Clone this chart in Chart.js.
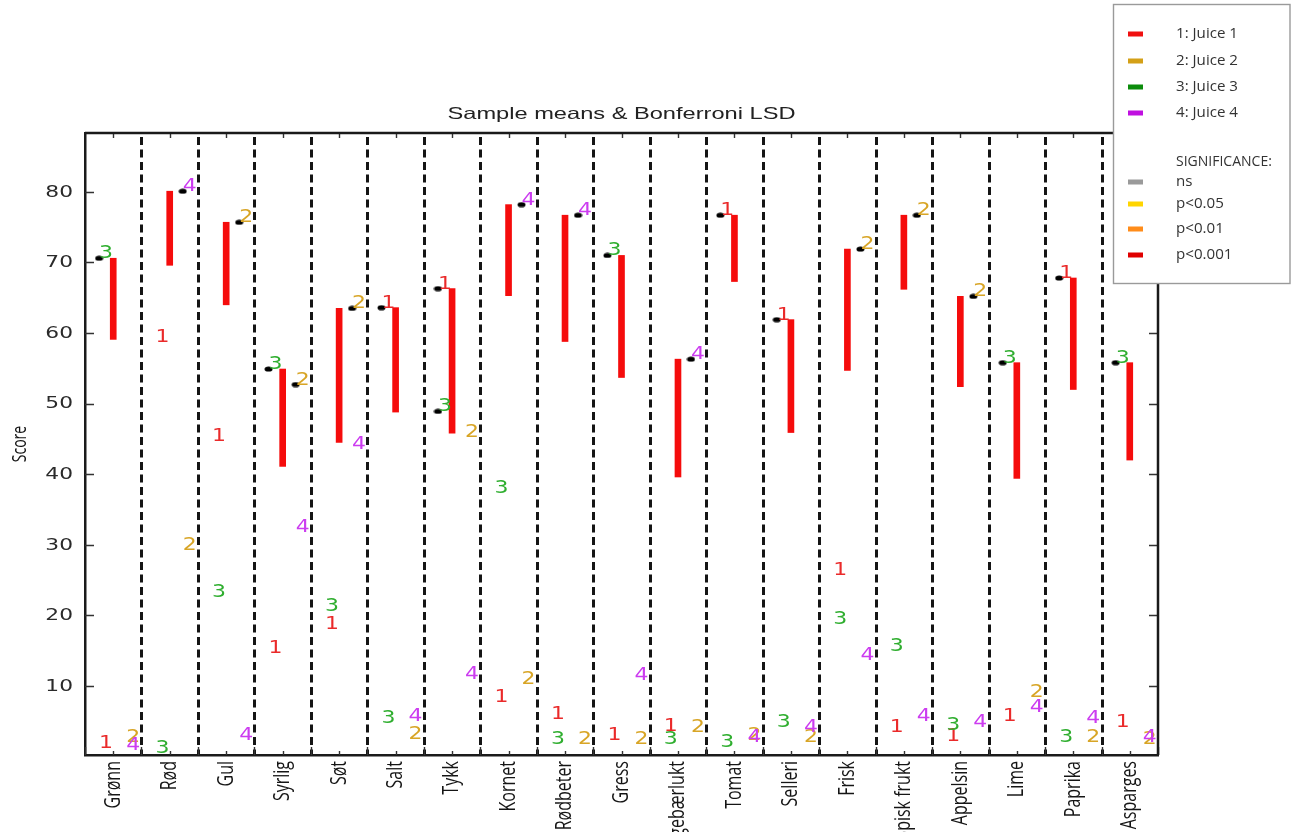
<!DOCTYPE html>
<html>
<head>
<meta charset="utf-8">
<title>Sample means & Bonferroni LSD</title>
<script src="https://cdn.jsdelivr.net/npm/chart.js@4.4.1/dist/chart.umd.min.js"></script>
<style>
  html, body { margin: 0; padding: 0; background: #fff; overflow: hidden; }
  #wrap { width: 1292px; height: 832px; position: relative; }
</style>
</head>
<body>
<div id="wrap"><canvas id="chart" width="1292" height="832"></canvas></div>
<script>
// Attributes rated in the sensory test
const categories = ['Grønn', 'Rød', 'Gul', 'Syrlig', 'Søt', 'Salt', 'Tykk', 'Kornet', 'Rødbeter', 'Gress',
  'Bringebærlukt', 'Tomat', 'Selleri', 'Frisk', 'Tropisk frukt', 'Appelsin', 'Lime', 'Paprika', 'Asparges'];

// Sample mean scores for each juice
const juice1 = [1.2, 58.7, 44.7, 14.7, 18.1, 63.6, 66.3, 7.7, 5.3, 2.3, 3.6, 76.7, 61.9, 25.7, 3.4, 2.2, 5.0, 67.8, 4.1];
const juice2 = [2.0, 29.2, 75.7, 52.7, 63.5, 2.5, 45.2, 10.2, 1.8, 1.7, 3.4, 2.3, 2.0, 71.9, 76.7, 65.2, 8.4, 2.1, 1.8];
const juice3 = [70.6, 0.5, 22.6, 54.9, 20.6, 4.7, 48.9, 37.4, 1.7, 71.0, 1.7, 1.4, 4.1, 18.8, 15.0, 3.7, 55.8, 2.0, 55.8];
const juice4 = [0.9, 80.1, 2.3, 31.8, 43.5, 5.0, 10.9, 78.2, 76.7, 10.8, 56.3, 2.0, 3.5, 13.6, 5.0, 4.2, 6.3, 4.7, 2.0];

// Bonferroni least significant difference per attribute
const lsd = [11.5, 10.5, 11.7, 13.8, 19.0, 14.8, 20.5, 12.9, 17.9, 17.3, 16.7, 9.4, 16.0, 17.2, 10.5, 12.8, 16.4, 15.8, 13.8];
// Significance of the attribute effect
const significance = Array.from({ length: 19 }, () => 'p<0.001');

const yTickValues = [10, 20, 30, 40, 50, 60, 70, 80];

const juiceNames = ['1: Juice 1', '2: Juice 2', '3: Juice 3', '4: Juice 4'];
const juiceLabels = ['1', '2', '3', '4'];
const juiceSwatch = ['#f01010', '#d4a017', '#0c8c0c', '#c010e0'];
const juiceText = ['#ea2a2a', '#d8a526', '#2fae2f', '#cc3cf0'];
const sigLevels = ['ns', 'p<0.05', 'p<0.01', 'p<0.001'];
const sigColors = ['#9a9a9a', '#ffd500', '#ff8c1a', '#e00000'];

const juices = [juice1, juice2, juice3, juice4];
// horizontal position of each juice's label inside its attribute column
const juiceOffset = [0.25, 0.73, 0.25, 0.73];

const maxMean = categories.map((c, i) => Math.max(...juices.map(j => j[i])));

const barData = categories.map((c, i) => ({ x: i + 0.5, y: [maxMean[i] - lsd[i], maxMean[i]] }));
const barColors = significance.map(s => s === 'p<0.001' ? '#f50c0c' : sigColors[sigLevels.indexOf(s)]);

// juices not significantly different from the best one get a marker
const groupPoints = [];
categories.forEach((c, i) => {
  juices.forEach((j, k) => {
    if (j[i] >= maxMean[i] - lsd[i]) groupPoints.push({ x: i + juiceOffset[k], y: j[i] });
  });
});

// flattened dot used as the group marker
const dotMarker = document.createElement('canvas');
dotMarker.width = 9; dotMarker.height = 6;
(() => {
  const c = dotMarker.getContext('2d');
  c.fillStyle = '#000';
  c.beginPath();
  c.ellipse(4.5, 3, 4, 2.6, 0, 0, Math.PI * 2);
  c.fill();
})();

const PLOT_LEFT = 85, PLOT_RIGHT_PAD = 134, PLOT_TOP = 133, XAXIS_H = 77;
const WIDE = 1.4; // horizontal stretch used for the lettering

function stretchedText(ctx, text, x, y, sx, align) {
  ctx.save();
  ctx.translate(x, y);
  ctx.scale(sx, 1);
  ctx.textAlign = align;
  ctx.fillText(text, 0, 0);
  ctx.restore();
}

const decorations = {
  id: 'decorations',
  beforeDatasetsDraw(chart) {
    const { ctx, chartArea: a, scales: { x, y } } = chart;
    ctx.save();
    // dashed separators between attributes
    ctx.strokeStyle = '#151515';
    ctx.lineWidth = 3;
    ctx.setLineDash([8, 4.5]);
    for (let k = 1; k < categories.length; k++) {
      const px = Math.round(x.getPixelForValue(k)) + 0.5;
      ctx.beginPath();
      ctx.moveTo(px, a.top + 4);
      ctx.lineTo(px, a.bottom);
      ctx.stroke();
    }
    ctx.setLineDash([]);
    // inward tick marks
    ctx.strokeStyle = '#333';
    ctx.lineWidth = 1.4;
    ctx.beginPath();
    yTickValues.forEach(v => {
      const py = Math.round(y.getPixelForValue(v)) + 0.5;
      ctx.moveTo(a.left, py); ctx.lineTo(a.left + 9, py);
      ctx.moveTo(a.right, py); ctx.lineTo(a.right - 9, py);
    });
    for (let k = 0; k <= categories.length; k++) {
      const px = Math.round(x.getPixelForValue(k)) + 0.5;
      ctx.moveTo(px, a.bottom); ctx.lineTo(px, a.bottom - 8);
    }
    categories.forEach((c, i) => {
      const px = Math.round(x.getPixelForValue(i + 0.5)) + 0.5;
      ctx.moveTo(px, a.bottom); ctx.lineTo(px, a.bottom - 4);
      ctx.moveTo(px, a.top); ctx.lineTo(px, a.top + 5);
    });
    ctx.stroke();
    // top and right spines
    ctx.strokeStyle = '#1a1a1a';
    ctx.lineWidth = 2.5;
    ctx.beginPath();
    ctx.moveTo(a.left, a.top); ctx.lineTo(a.right, a.top); ctx.lineTo(a.right, a.bottom);
    ctx.stroke();
    ctx.restore();
  },
  afterDatasetsDraw(chart) {
    const { ctx, scales: { x, y } } = chart;
    ctx.save();
    ctx.font = '18px "DejaVu Sans"';
    ctx.textBaseline = 'alphabetic';
    juices.forEach((j, k) => {
      ctx.fillStyle = juiceText[k];
      categories.forEach((c, i) => {
        const px = x.getPixelForValue(i + juiceOffset[k]);
        const py = y.getPixelForValue(j[i]);
        stretchedText(ctx, juiceLabels[k], px, py, 1.22, 'left');
      });
    });
    ctx.restore();
  },
  afterDraw(chart) {
    const { ctx, chartArea: a, scales: { x, y } } = chart;
    ctx.save();
    // y tick labels
    ctx.fillStyle = '#2a2a2a';
    ctx.font = '15px "DejaVu Sans"';
    ctx.textBaseline = 'middle';
    yTickValues.forEach(v => {
      stretchedText(ctx, String(v), a.left - 12, y.getPixelForValue(v) + 1, 1.45, 'right');
    });
    // category labels, rotated
    ctx.fillStyle = '#151515';
    ctx.font = '16px "Open Sans", "Noto Sans", sans-serif';
    categories.forEach((c, i) => {
      ctx.save();
      ctx.translate(x.getPixelForValue(i + 0.5), a.bottom + 6);
      ctx.scale(WIDE, 1);
      ctx.rotate(-Math.PI / 2);
      ctx.textAlign = 'right';
      ctx.textBaseline = 'middle';
      ctx.fillText(c, 0, 0);
      ctx.restore();
    });
    // title
    ctx.fillStyle = '#222';
    ctx.font = '16.5px "Liberation Sans", Arial, sans-serif';
    ctx.textBaseline = 'alphabetic';
    const title = 'Sample means & Bonferroni LSD';
    const tw = ctx.measureText(title).width;
    stretchedText(ctx, title, (a.left + a.right) / 2, 119, 348 / tw, 'center');
    // y axis title
    ctx.save();
    ctx.translate(20, (a.top + a.bottom) / 2);
    ctx.scale(WIDE, 1);
    ctx.rotate(-Math.PI / 2);
    ctx.font = '14px "Open Sans", sans-serif';
    ctx.fillStyle = '#111';
    ctx.textAlign = 'center';
    ctx.textBaseline = 'middle';
    ctx.fillText('Score', 0, 0);
    ctx.restore();
    // legend
    ctx.fillStyle = '#fff';
    ctx.fillRect(1113, 4, 177, 280);
    ctx.strokeStyle = '#9a9a9a';
    ctx.lineWidth = 1.4;
    ctx.strokeRect(1113.5, 4.5, 176.5, 279);
    ctx.font = '14px "Open Sans", sans-serif';
    ctx.textBaseline = 'middle';
    const juiceY = [34, 61, 87, 113];
    juiceNames.forEach((n, k) => {
      ctx.fillStyle = juiceSwatch[k];
      ctx.fillRect(1128, juiceY[k] - 2.5, 15, 5);
      ctx.fillStyle = '#333';
      stretchedText(ctx, n, 1176, juiceY[k], 1.08, 'left');
    });
    ctx.fillStyle = '#333';
    stretchedText(ctx, 'SIGNIFICANCE:', 1176, 162, 1.0, 'left');
    const sigY = [182, 204, 229, 255];
    sigLevels.forEach((s, k) => {
      ctx.fillStyle = sigColors[k];
      ctx.fillRect(1128, sigY[k] - 2.5, 15, 5);
      ctx.fillStyle = '#333';
      stretchedText(ctx, s, 1176, sigY[k], 1.08, 'left');
    });
    ctx.restore();
  }
};

new Chart(document.getElementById('chart'), {
  type: 'scatter',
  data: {
    datasets: [
      {
        type: 'bar',
        data: barData,
        backgroundColor: barColors,
        borderWidth: 0,
        barThickness: 6,
        order: 2
      },
      {
        type: 'scatter',
        data: groupPoints,
        pointStyle: dotMarker,
        pointRadius: 3,
        pointHoverRadius: 3,
        order: 1
      }
    ]
  },
  options: {
    responsive: false,
    animation: false,
    devicePixelRatio: 1,
    layout: { padding: { top: PLOT_TOP, right: PLOT_RIGHT_PAD, left: 0, bottom: 0 } },
    plugins: { legend: { display: false }, tooltip: { enabled: false }, title: { display: false } },
    scales: {
      x: {
        type: 'linear',
        min: 0,
        max: categories.length,
        offset: false,
        grid: { display: false, offset: false },
        border: { display: true, color: '#1a1a1a', width: 2.5 },
        afterBuildTicks: scale => { scale.ticks = categories.map((c, i) => ({ value: i + 0.5 })); },
        afterFit: scale => { scale.height = XAXIS_H; scale.paddingLeft = 0; scale.paddingRight = 0; },
        ticks: { display: false }
      },
      y: {
        type: 'linear',
        min: 0.2,
        max: 88.35,
        grid: { display: false },
        border: { display: true, color: '#1a1a1a', width: 2.5 },
        afterBuildTicks: scale => { scale.ticks = yTickValues.map(v => ({ value: v })); },
        afterFit: scale => { scale.width = PLOT_LEFT; },
        ticks: { display: false }
      }
    }
  },
  plugins: [decorations]
});
</script>
</body>
</html>
